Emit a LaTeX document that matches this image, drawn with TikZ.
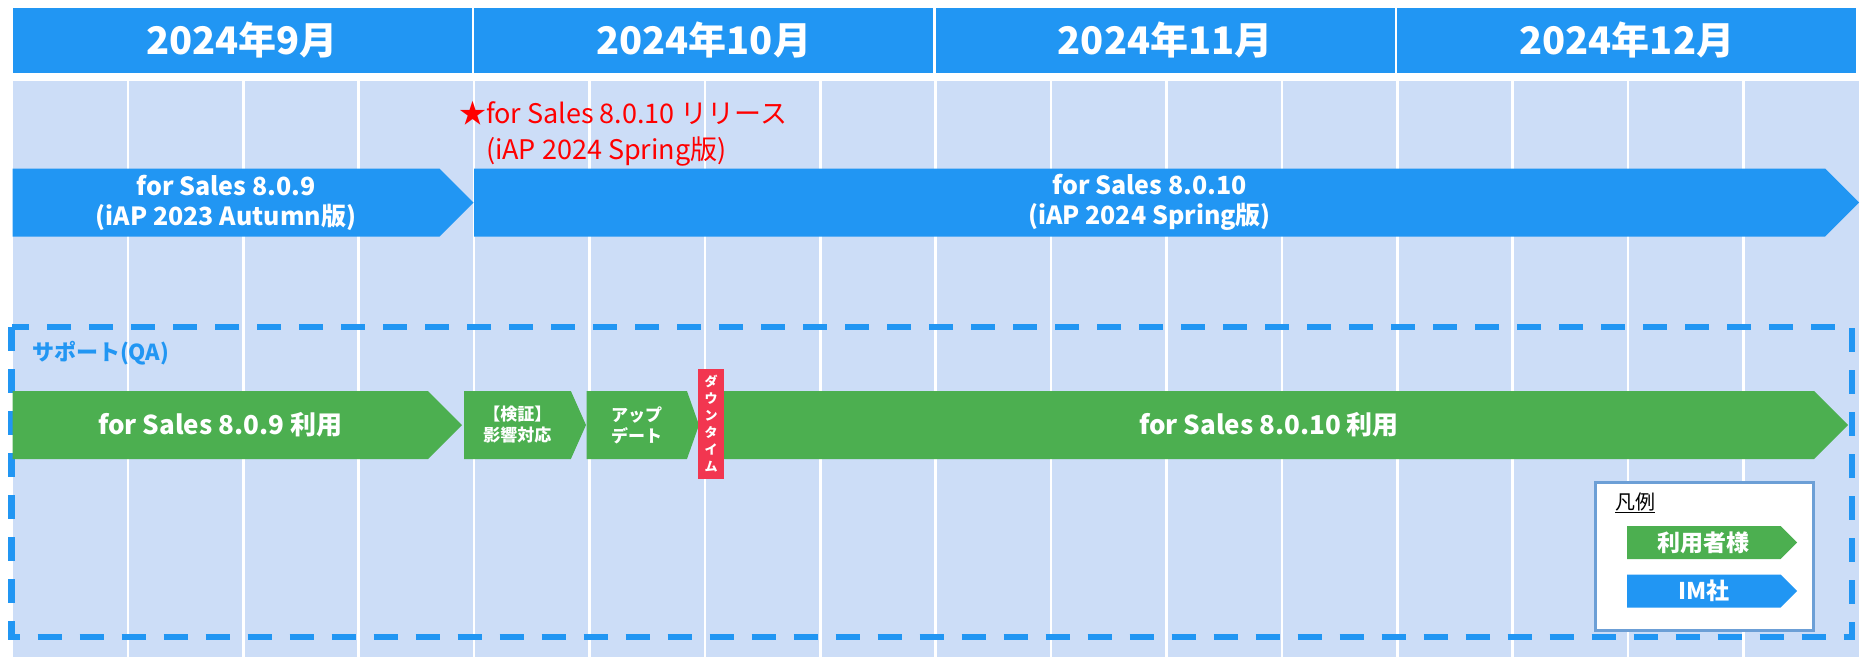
\documentclass[tikz,border=0pt]{standalone}
\usepackage{fontspec}
\setmainfont{Noto Sans CJK JP}
\usetikzlibrary{shapes.symbols}
\definecolor{hdrblue}{HTML}{2196F3}
\definecolor{bodyblue}{HTML}{CCDDF7}
\definecolor{usegreen}{HTML}{4CAF50}
\definecolor{downred}{HTML}{F23650}
\definecolor{legendline}{HTML}{6C9FD6}
\begin{document}
\begin{tikzpicture}
  [x=1pt,y=-1pt,every node/.style={inner sep=0pt,outer sep=0pt},
   month/.style={fill=hdrblue,text=white,minimum width=459pt,minimum height=65pt,font=\fontsize{38}{40}\selectfont\bfseries},
   band/.style={signal,signal to=east,signal pointer angle=90,anchor=west,text=white,align=center,minimum height=68pt},
   ibar/.style={band,fill=hdrblue,font=\fontsize{25}{30}\selectfont\bfseries},
   ubar/.style={band,fill=usegreen,font=\fontsize{26}{30}\selectfont\bfseries},
   stepbar/.style={band,fill=usegreen,font=\fontsize{17}{21}\selectfont\bfseries},
   legbar/.style={band,minimum width=170pt,minimum height=33pt,font=\fontsize{23}{25}\selectfont\bfseries}]
\useasboundingbox (0,0) rectangle (1865,657);
\fill[bodyblue] (12.5,80.7) rectangle (1859,657);
\foreach \k in {1,...,15}
  \draw[white,line width=2.5pt] (12.5+\k*115.4,80.7) -- (12.5+\k*115.4,657);
\foreach \m/\lab [count=\i from 0] in {m9/2024年9月,m10/2024年10月,m11/2024年11月,m12/2024年12月}
  \node (\m) [month] at (242+\i*461.6,40) {\lab};

\node (rel9) [ibar,minimum width=461pt] at (12.5,202.5) {for Sales 8.0.9\\(iAP 2023 Autumn版)};
\node (rel10) [ibar,minimum width=1385pt] at (474,202.5) {for Sales 8.0.10\\(iAP 2024 Spring版)};
\node (note) [anchor=west,text=red,align=left,font=\fontsize{27}{36}\selectfont] at (459,134)
  {★for Sales 8.0.10 リリース\\\phantom{★}(iAP 2024 Spring版)};

\draw[hdrblue,line width=6.5pt,dash pattern=on 24pt off 18pt] (11.5,327) rectangle (1852,637);
\node (qa) [anchor=west,text=hdrblue,font=\fontsize{22}{24}\selectfont\bfseries] at (32,353) {サポート(QA)};

\node (use9) [ubar,minimum width=449.5pt] at (12.5,425) {for Sales 8.0.9 利用};
\node (verify) [stepbar,signal pointer angle=132,minimum width=122pt] at (464,425) {【検証】\\影響対応};
\node (update) [stepbar,signal pointer angle=141,minimum width=112.5pt] at (586.5,425) {アップ\\デート};
\node (use10) [ubar,minimum width=1124pt] at (724,425) {for Sales 8.0.10 利用};
\node (down) [fill=downred,text=white,minimum width=26pt,minimum height=110pt,align=center,
  font=\fontsize{13}{17}\selectfont\bfseries] at (711,424) {ダ\\ウ\\ン\\タ\\イ\\ム};

\node (legend) [draw=legendline,line width=3pt,fill=white,minimum width=218pt,minimum height=148pt] at (1704,556) {};
\node (legtitle) [anchor=west,font=\fontsize{20}{22}\selectfont] at (1615,503) {\underline{凡例}};
\node (leguser) [legbar,fill=usegreen] at (1627,542.5) {利用者様};
\node (legim) [legbar,fill=hdrblue] at (1627,591) {IM社};
\end{tikzpicture}
\end{document}
